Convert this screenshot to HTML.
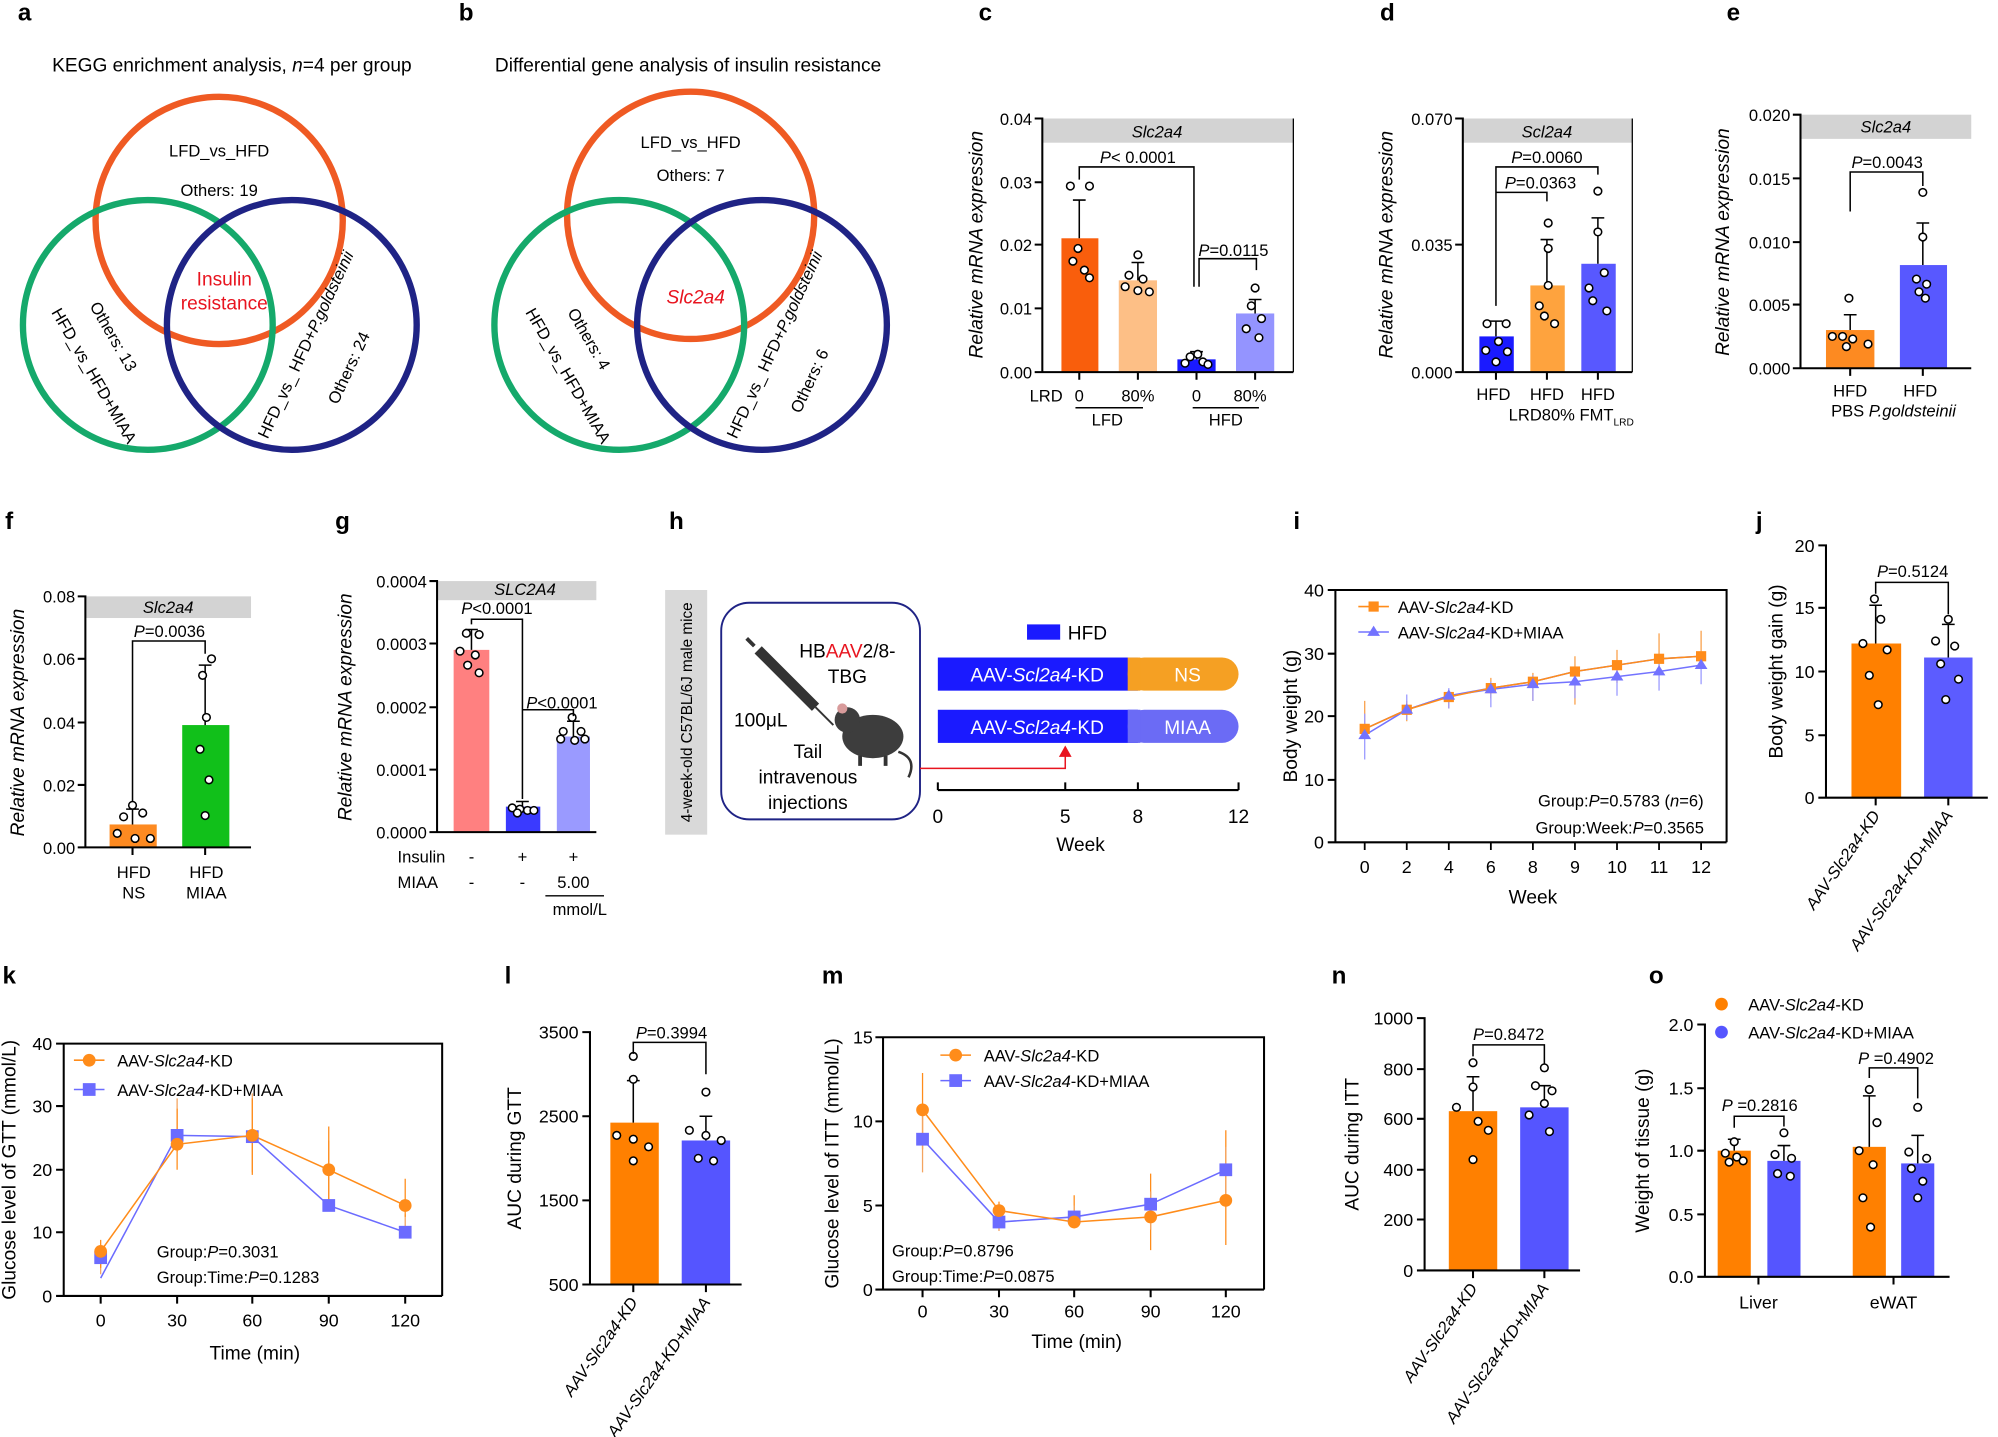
<!DOCTYPE html>
<html><head><meta charset="utf-8"><style>html,body{margin:0;padding:0;background:#fff}svg{display:block}</style></head><body>
<svg width="1998" height="1437" viewBox="0 0 1568 1127.7" preserveAspectRatio="none" xmlns="http://www.w3.org/2000/svg" font-family="Liberation Sans, sans-serif" font-size="13">
<defs><style>.pl{font-size:19px;font-weight:bold}.ax{stroke:#000;stroke-width:1.6;fill:none}.eb{stroke:#000;stroke-width:1.2;fill:none}.dot{fill:#fff;stroke:#000;stroke-width:1.2}.hd{fill:#d3d3d3}</style></defs>
<!-- panel letters -->
<g class="pl"><text x="14" y="16">a</text><text x="360" y="16">b</text><text x="768" y="16">c</text><text x="1083" y="16">d</text><text x="1355" y="16">e</text>
<text x="4" y="415">f</text><text x="263" y="415">g</text><text x="525" y="415">h</text><text x="1015" y="415">i</text><text x="1378" y="415">j</text>
<text x="2" y="772">k</text><text x="396" y="772">l</text><text x="645" y="772">m</text><text x="1045" y="772">n</text><text x="1294" y="772">o</text></g>

<!-- Venn a -->
<text x="182" y="56" text-anchor="middle" font-size="15">KEGG enrichment analysis, <tspan font-style="italic">n</tspan>=4 per group</text>
<g fill="none" stroke-width="5"><circle cx="172" cy="173" r="97" stroke="#ef5a23"/><circle cx="116" cy="255" r="98" stroke="#15a96b"/><circle cx="229" cy="255" r="98" stroke="#1f2385"/></g>
<text x="172" y="123" text-anchor="middle">LFD_vs_HFD</text><text x="172" y="154" text-anchor="middle">Others: 19</text>
<text x="176" y="224" text-anchor="middle" fill="#e8141f" font-size="15">Insulin</text><text x="176" y="243" text-anchor="middle" fill="#e8141f" font-size="15">resistance</text>
<text transform="translate(70,240) rotate(60)">Others: 13</text><text transform="translate(40,245) rotate(60)">HFD_vs_HFD+MIAA</text>
<text transform="translate(210,345) rotate(-65)">HFD_vs_ HFD+<tspan font-style="italic">P.goldsteinii</tspan></text><text transform="translate(265,318) rotate(-65)">Others: 24</text>

<!-- Venn b -->
<text x="540" y="56" text-anchor="middle" font-size="15">Differential gene analysis of insulin resistance</text>
<g fill="none" stroke-width="5"><circle cx="542" cy="169" r="97" stroke="#ef5a23"/><circle cx="486" cy="255" r="98" stroke="#15a96b"/><circle cx="598" cy="255" r="98" stroke="#1f2385"/></g>
<text x="542" y="116" text-anchor="middle">LFD_vs_HFD</text><text x="542" y="142" text-anchor="middle">Others: 7</text>
<text x="546" y="238" text-anchor="middle" fill="#e8141f" font-size="15" font-style="italic">Slc2a4</text>
<text transform="translate(445,245) rotate(60)">Others: 4</text><text transform="translate(412,245) rotate(60)">HFD_vs_HFD+MIAA</text>
<text transform="translate(578,345) rotate(-65)">HFD_vs_ HFD+<tspan font-style="italic">P.goldsteinii</tspan></text><text transform="translate(628,325) rotate(-65)">Others: 6</text>

<!-- c -->
<rect class="hd" x="818" y="93" width="197" height="19"/><text x="908" y="108" text-anchor="middle" font-style="italic">Slc2a4</text>
<line x1="1015" y1="93" x2="1015" y2="292" stroke="#000"/>
<rect x="833" y="187" width="29" height="105" fill="#f95e0c"/><rect x="878" y="220" width="30" height="72" fill="#fdbf86"/><rect x="924" y="282" width="30" height="10" fill="#1a1aff"/><rect x="970" y="246" width="30" height="46" fill="#9494ff"/>
<path class="eb" d="M847 187V157M842 157h10M893 220V206M888 206h10M939 282V276M934 276h10M985 246V235M980 235h10"/>
<g class="dot"><circle cx="840" cy="146" r="3"/><circle cx="855" cy="146" r="3"/><circle cx="846" cy="195" r="3"/><circle cx="842" cy="205" r="3"/><circle cx="851" cy="212" r="3"/><circle cx="855" cy="218" r="3"/><circle cx="893" cy="200" r="3"/><circle cx="886" cy="216" r="3"/><circle cx="897" cy="219" r="3"/><circle cx="883" cy="225" r="3"/><circle cx="893" cy="228" r="3"/><circle cx="902" cy="229" r="3"/><circle cx="934" cy="280" r="3"/><circle cx="940" cy="278" r="3"/><circle cx="944" cy="284" r="3"/><circle cx="930" cy="285" r="3"/><circle cx="948" cy="286" r="3"/><circle cx="985" cy="226" r="3"/><circle cx="982" cy="240" r="3"/><circle cx="990" cy="250" r="3"/><circle cx="978" cy="258" r="3"/><circle cx="988" cy="265" r="3"/></g>
<path class="eb" d="M847 141V131H937V225M941 225V203H986V212"/>
<text x="893" y="128" text-anchor="middle"><tspan font-style="italic">P</tspan>&lt; 0.0001</text><text x="968" y="201" text-anchor="middle"><tspan font-style="italic">P</tspan>=0.0115</text>
<path class="ax" d="M812 93H818V292H1015M812 143H818M812 192H818M812 242H818M812 292H818M847 292v6M893 292v6M939 292v6M985 292v6"/>
<g text-anchor="end"><text x="810" y="98">0.04</text><text x="810" y="148">0.03</text><text x="810" y="197">0.02</text><text x="810" y="247">0.01</text><text x="810" y="297">0.00</text></g>
<text transform="translate(771,192) rotate(-90)" text-anchor="middle" font-style="italic" font-size="15">Relative mRNA expression</text>
<text x="808" y="315">LRD</text><text x="847" y="315" text-anchor="middle">0</text><text x="893" y="315" text-anchor="middle">80%</text><text x="939" y="315" text-anchor="middle">0</text><text x="981" y="315" text-anchor="middle">80%</text>
<path class="eb" d="M844 320H897M936 320H988"/><text x="869" y="334" text-anchor="middle">LFD</text><text x="962" y="334" text-anchor="middle">HFD</text>

<!-- d -->
<rect class="hd" x="1148" y="93" width="133" height="19"/><text x="1214" y="108" text-anchor="middle" font-style="italic">Scl2a4</text>
<line x1="1281" y1="93" x2="1281" y2="292" stroke="#000"/>
<rect x="1161" y="264" width="27" height="28" fill="#1a1aff"/><rect x="1201" y="224" width="27" height="68" fill="#fea33e"/><rect x="1241" y="207" width="27" height="85" fill="#5858ff"/>
<path class="eb" d="M1174 264V252M1169 252h10M1214 224V188M1209 188h10M1254 207V171M1249 171h10"/>
<g class="dot"><circle cx="1167" cy="254" r="3"/><circle cx="1182" cy="254" r="3"/><circle cx="1176" cy="268" r="3"/><circle cx="1166" cy="275" r="3"/><circle cx="1183" cy="276" r="3"/><circle cx="1174" cy="284" r="3"/><circle cx="1215" cy="175" r="3"/><circle cx="1215" cy="195" r="3"/><circle cx="1215" cy="224" r="3"/><circle cx="1208" cy="240" r="3"/><circle cx="1212" cy="248" r="3"/><circle cx="1220" cy="254" r="3"/><circle cx="1254" cy="150" r="3"/><circle cx="1254" cy="182" r="3"/><circle cx="1259" cy="214" r="3"/><circle cx="1247" cy="226" r="3"/><circle cx="1250" cy="236" r="3"/><circle cx="1261" cy="244" r="3"/></g>
<path class="eb" d="M1174 240V131H1254V137M1174 160V151H1214V158"/>
<text x="1214" y="128" text-anchor="middle"><tspan font-style="italic">P</tspan>=0.0060</text><text x="1209" y="148" text-anchor="middle"><tspan font-style="italic">P</tspan>=0.0363</text>
<path class="ax" d="M1142 93H1148V292H1281M1142 192H1148M1142 292H1148M1174 292v6M1214 292v6M1254 292v6"/>
<g text-anchor="end"><text x="1140" y="98">0.070</text><text x="1140" y="197">0.035</text><text x="1140" y="297">0.000</text></g>
<text transform="translate(1093,192) rotate(-90)" text-anchor="middle" font-style="italic" font-size="15">Relative mRNA expression</text>
<text x="1172" y="314" text-anchor="middle">HFD</text><text x="1214" y="314" text-anchor="middle">HFD</text><text x="1254" y="314" text-anchor="middle">HFD</text>
<text x="1184" y="330">LRD80% FMT<tspan font-size="8" dy="4">LRD</tspan></text>

<!-- e -->
<rect class="hd" x="1413" y="90" width="134" height="19"/><text x="1480" y="104" text-anchor="middle" font-style="italic">Slc2a4</text>
<rect x="1433" y="259" width="38" height="30" fill="#fd8a21"/><rect x="1491" y="208" width="37" height="81" fill="#5858ff"/>
<path class="eb" d="M1452 259V247M1447 247h10M1509 208V175M1504 175h10"/>
<g class="dot"><circle cx="1451" cy="234" r="3"/><circle cx="1438" cy="264" r="3"/><circle cx="1446" cy="264" r="3"/><circle cx="1454" cy="266" r="3"/><circle cx="1449" cy="272" r="3"/><circle cx="1466" cy="270" r="3"/><circle cx="1509" cy="151" r="3"/><circle cx="1509" cy="186" r="3"/><circle cx="1504" cy="219" r="3"/><circle cx="1512" cy="223" r="3"/><circle cx="1506" cy="229" r="3"/><circle cx="1511" cy="234" r="3"/></g>
<path class="eb" d="M1452 166V135H1509V146"/><text x="1481" y="132" text-anchor="middle"><tspan font-style="italic">P</tspan>=0.0043</text>
<path class="ax" d="M1407 90H1413V289H1547M1407 140H1413M1407 190H1413M1407 239H1413M1407 289H1413M1452 289v6M1509 289v6"/>
<g text-anchor="end"><text x="1405" y="95">0.020</text><text x="1405" y="145">0.015</text><text x="1405" y="195">0.010</text><text x="1405" y="244">0.005</text><text x="1405" y="294">0.000</text></g>
<text transform="translate(1357,190) rotate(-90)" text-anchor="middle" font-style="italic" font-size="15">Relative mRNA expression</text>
<text x="1452" y="311" text-anchor="middle">HFD</text><text x="1507" y="311" text-anchor="middle">HFD</text><text x="1437" y="327">PBS <tspan font-style="italic">P.goldsteinii</tspan></text>

<!-- f -->
<rect class="hd" x="67" y="468" width="130" height="17"/><text x="132" y="481" text-anchor="middle" font-style="italic">Slc2a4</text>
<rect x="86" y="647" width="37" height="18" fill="#fd8a21"/><rect x="143" y="569" width="37" height="96" fill="#11c01a"/>
<path class="eb" d="M104 647V635M99 635h10M161 569V522M156 522h10"/>
<g class="dot"><circle cx="104" cy="632" r="3"/><circle cx="97" cy="641" r="3"/><circle cx="112" cy="638" r="3"/><circle cx="92" cy="654" r="3"/><circle cx="106" cy="658" r="3"/><circle cx="118" cy="658" r="3"/><circle cx="166" cy="517" r="3"/><circle cx="159" cy="530" r="3"/><circle cx="162" cy="563" r="3"/><circle cx="157" cy="588" r="3"/><circle cx="164" cy="612" r="3"/><circle cx="161" cy="640" r="3"/></g>
<path class="eb" d="M104 629V503H161V513"/><text x="133" y="500" text-anchor="middle"><tspan font-style="italic">P</tspan>=0.0036</text>
<path class="ax" d="M61 468H67V665H197M61 517H67M61 567H67M61 616H67M61 665H67M104 665v6M161 665v6"/>
<g text-anchor="end"><text x="59" y="473">0.08</text><text x="59" y="522">0.06</text><text x="59" y="572">0.04</text><text x="59" y="621">0.02</text><text x="59" y="670">0.00</text></g>
<text transform="translate(19,567) rotate(-90)" text-anchor="middle" font-style="italic" font-size="15">Relative mRNA expression</text>
<text x="105" y="689" text-anchor="middle">HFD</text><text x="162" y="689" text-anchor="middle">HFD</text><text x="105" y="705" text-anchor="middle">NS</text><text x="162" y="705" text-anchor="middle">MIAA</text>

<!-- g -->
<rect class="hd" x="343" y="456" width="125" height="15"/><text x="412" y="467" text-anchor="middle" font-style="italic">SLC2A4</text>
<rect x="356" y="510" width="28" height="143" fill="#ff8080"/><rect x="397" y="633" width="27" height="20" fill="#3a3aff"/><rect x="437" y="578" width="26" height="75" fill="#9a9aff"/>
<path class="eb" d="M370 510V494M365 494h10M410 633V629M405 629h10M450 578V566M445 566h10"/>
<g class="dot"><circle cx="366" cy="497" r="3"/><circle cx="376" cy="498" r="3"/><circle cx="361" cy="511" r="3"/><circle cx="373" cy="514" r="3"/><circle cx="367" cy="522" r="3"/><circle cx="376" cy="528" r="3"/><circle cx="402" cy="634" r="3"/><circle cx="408" cy="635" r="3"/><circle cx="414" cy="636" r="3"/><circle cx="419" cy="636" r="3"/><circle cx="406" cy="638" r="3"/><circle cx="449" cy="563" r="3"/><circle cx="442" cy="574" r="3"/><circle cx="456" cy="574" r="3"/><circle cx="440" cy="580" r="3"/><circle cx="451" cy="581" r="3"/><circle cx="459" cy="580" r="3"/></g>
<path class="eb" d="M370 490V486H410V627M410 560V557H450V562"/>
<text x="390" y="482" text-anchor="middle"><tspan font-style="italic">P</tspan>&lt;0.0001</text><text x="441" y="556" text-anchor="middle"><tspan font-style="italic">P</tspan>&lt;0.0001</text>
<path class="ax" d="M337 456H343V653H468M337 505H343M337 555H343M337 604H343M337 653H343"/>
<g text-anchor="end"><text x="335" y="461">0.0004</text><text x="335" y="510">0.0003</text><text x="335" y="560">0.0002</text><text x="335" y="609">0.0001</text><text x="335" y="658">0.0000</text></g>
<text transform="translate(276,555) rotate(-90)" text-anchor="middle" font-style="italic" font-size="15">Relative mRNA expression</text>
<text x="312" y="677">Insulin</text><text x="370" y="677" text-anchor="middle">-</text><text x="410" y="677" text-anchor="middle">+</text><text x="450" y="677" text-anchor="middle">+</text>
<text x="312" y="697">MIAA</text><text x="370" y="697" text-anchor="middle">-</text><text x="410" y="697" text-anchor="middle">-</text><text x="450" y="697" text-anchor="middle">5.00</text>
<line x1="428" y1="703" x2="474" y2="703" stroke="#000"/><text x="455" y="718" text-anchor="middle">mmol/L</text>

<!-- h -->
<rect x="522" y="463" width="33" height="192" fill="#d9d9d9"/>
<text transform="translate(543,559) rotate(-90)" text-anchor="middle" font-size="12">4-week-old C57BL/6J male  mice</text>
<rect x="566" y="473" width="156" height="170" rx="22" fill="none" stroke="#1f2385" stroke-width="1.5"/>
<text x="665" y="516" text-anchor="middle" font-size="15">HB<tspan fill="#e8141f">AAV</tspan>2/8-</text><text x="665" y="536" text-anchor="middle" font-size="15">TBG</text>
<text x="576" y="570" font-size="15">100μL</text>
<text x="634" y="595" text-anchor="middle" font-size="15">Tail</text><text x="634" y="615" text-anchor="middle" font-size="15">intravenous</text><text x="634" y="635" text-anchor="middle" font-size="15">injections</text>
<g><path d="M595 510l45 45" stroke="#333" stroke-width="8"/><path d="M640 555l14 14" stroke="#333" stroke-width="1.5"/><path d="M592 507l-6 -6" stroke="#333" stroke-width="3"/>
<ellipse cx="685" cy="578" rx="24" ry="17" fill="#3d3d3d"/><circle cx="665" cy="565" r="10" fill="#3d3d3d"/><circle cx="661" cy="556" r="4" fill="#d89b9b"/><path d="M705 590q15 5 8 20" stroke="#333" fill="none" stroke-width="2"/><path d="M675 593v8M695 593v8" stroke="#333" stroke-width="3"/></g>
<rect x="806" y="490" width="26" height="12" fill="#1a1aff"/><text x="838" y="502" font-size="15">HFD</text>
<rect x="736" y="516" width="157" height="26" fill="#1a1aff"/><text x="814" y="535" text-anchor="middle" fill="#fff" font-size="15">AAV-<tspan font-style="italic">Scl2a4</tspan>-KD</text>
<rect x="885" y="516" width="87" height="26" rx="13" fill="#f5a023"/><rect x="885" y="516" width="10" height="26" fill="#f5a023"/><text x="932" y="535" text-anchor="middle" fill="#fff" font-size="15">NS</text>
<rect x="736" y="557" width="157" height="26" fill="#1a1aff"/><text x="814" y="576" text-anchor="middle" fill="#fff" font-size="15">AAV-<tspan font-style="italic">Scl2a4</tspan>-KD</text>
<rect x="885" y="557" width="87" height="26" rx="13" fill="#6b6bf5"/><rect x="885" y="557" width="10" height="26" fill="#6b6bf5"/><text x="932" y="576" text-anchor="middle" fill="#fff" font-size="15">MIAA</text>
<path d="M722 603H836V592" stroke="#e8141f" stroke-width="1.2" fill="none"/><path d="M831 594l5 -9l5 9z" fill="#e8141f"/>
<path class="ax" d="M736 620H972M736 620v-6M836 620v-6M893 620v-6M972 620v-6"/>
<g font-size="15" text-anchor="middle"><text x="736" y="646">0</text><text x="836" y="646">5</text><text x="893" y="646">8</text><text x="972" y="646">12</text><text x="848" y="668">Week</text></g>

<!-- i -->
<path class="ax" d="M1042 463H1355V661M1042 463H1048V661H1355M1042 513H1048M1042 562H1048M1042 612H1048M1042 661H1048"/>
<g stroke="#000" stroke-width="1.4"><path d="M1071 661v6M1104 661v6M1137 661v6M1170 661v6M1203 661v6M1236 661v6M1269 661v6M1302 661v6M1335 661v6"/></g>
<g text-anchor="end" font-size="14"><text x="1039" y="468">40</text><text x="1039" y="518">30</text><text x="1039" y="567">20</text><text x="1039" y="617">10</text><text x="1039" y="666">0</text></g>
<g text-anchor="middle" font-size="14"><text x="1071" y="685">0</text><text x="1104" y="685">2</text><text x="1137" y="685">4</text><text x="1170" y="685">6</text><text x="1203" y="685">8</text><text x="1236" y="685">9</text><text x="1269" y="685">10</text><text x="1302" y="685">11</text><text x="1335" y="685">12</text><text x="1203" y="709" font-size="15">Week</text></g>
<text transform="translate(1018,562) rotate(-90)" text-anchor="middle" font-size="15">Body weight (g)</text>
<g stroke="#f9a04a" stroke-width="1" fill="none"><path d="M1071 550v24M1104 550v16M1137 544v12M1170 532v16M1203 528v22M1236 515v38M1269 510v26M1302 497v30M1335 495v28"/></g>
<g stroke="#9a9aff" stroke-width="1" fill="none"><path d="M1071 560v36M1104 545v20M1137 540v16M1170 535v20M1203 530v20M1236 528v20M1269 524v22M1302 520v22M1335 515v22"/></g>
<polyline points="1071,572 1104,557 1137,546 1170,540 1203,535 1236,527 1269,522 1302,517 1335,515" fill="none" stroke="#7373ff" stroke-width="1.2"/>
<polyline points="1071,572 1104,557 1137,546 1170,540 1203,535 1236,527 1269,522 1302,517 1335,515" fill="none" stroke="#7373ff" stroke-width="0"/>
<polyline points="1071,577 1104,557 1137,546 1170,541 1203,537 1236,535 1269,531 1302,527 1335,522" fill="none" stroke="#7373ff" stroke-width="1.2"/>
<polyline points="1071,572 1104,557 1137,547 1170,540 1203,535 1236,527 1269,522 1302,517 1335,515" fill="none" stroke="#ff8c1a" stroke-width="1.2"/>
<g fill="#ff8c1a"><rect x="1067" y="568" width="8" height="8"/><rect x="1100" y="553" width="8" height="8"/><rect x="1133" y="543" width="8" height="8"/><rect x="1166" y="536" width="8" height="8"/><rect x="1199" y="531" width="8" height="8"/><rect x="1232" y="523" width="8" height="8"/><rect x="1265" y="518" width="8" height="8"/><rect x="1298" y="513" width="8" height="8"/><rect x="1331" y="511" width="8" height="8"/></g>
<g fill="#7373ff"><path d="M1071 572l5 8h-10z M1104 552l5 8h-10z M1137 541l5 8h-10z M1170 536l5 8h-10z M1203 532l5 8h-10z M1236 530l5 8h-10z M1269 526l5 8h-10z M1302 522l5 8h-10z M1335 517l5 8h-10z"/></g>
<path d="M1066 476h24" stroke="#ff8c1a" stroke-width="1.2"/><rect x="1074" y="472" width="8" height="8" fill="#ff8c1a"/><text x="1097" y="481">AAV-<tspan font-style="italic">Slc2a4</tspan>-KD</text>
<path d="M1066 496h24" stroke="#7373ff" stroke-width="1.2"/><path d="M1078 491l5 8h-10z" fill="#7373ff"/><text x="1097" y="501">AAV-<tspan font-style="italic">Slc2a4</tspan>-KD+MIAA</text>
<text x="1207" y="633">Group:<tspan font-style="italic">P</tspan>=0.5783 (<tspan font-style="italic">n</tspan>=6)</text><text x="1205" y="654">Group:Week:<tspan font-style="italic">P</tspan>=0.3565</text>

<!-- j -->
<rect x="1453" y="505" width="39" height="121" fill="#ff8000"/><rect x="1510" y="516" width="38" height="110" fill="#5c5cff"/>
<path class="eb" d="M1472 505V475M1467 475h10M1529 516V490M1524 490h10"/>
<g class="dot"><circle cx="1471" cy="470" r="3"/><circle cx="1476" cy="486" r="3"/><circle cx="1462" cy="505" r="3"/><circle cx="1481" cy="510" r="3"/><circle cx="1467" cy="530" r="3"/><circle cx="1474" cy="553" r="3"/><circle cx="1529" cy="486" r="3"/><circle cx="1519" cy="503" r="3"/><circle cx="1534" cy="507" r="3"/><circle cx="1523" cy="521" r="3"/><circle cx="1537" cy="533" r="3"/><circle cx="1527" cy="549" r="3"/></g>
<path class="eb" d="M1472 466V457H1529V482"/><text x="1501" y="453" text-anchor="middle"><tspan font-style="italic">P</tspan>=0.5124</text>
<path class="ax" d="M1427 428H1433V626H1560M1427 477H1433M1427 527H1433M1427 577H1433M1427 626H1433M1472 626v6M1529 626v6"/>
<g text-anchor="end" font-size="14"><text x="1424" y="433">20</text><text x="1424" y="482">15</text><text x="1424" y="532">10</text><text x="1424" y="582">5</text><text x="1424" y="631">0</text></g>
<text transform="translate(1399,527) rotate(-90)" text-anchor="middle" font-size="15">Body weight gain (g)</text>
<text transform="translate(1476,640) rotate(-55)" text-anchor="end" font-style="italic">AAV-Slc2a4-KD</text><text transform="translate(1533,640) rotate(-55)" text-anchor="end" font-style="italic">AAV-Slc2a4-KD+MIAA</text>

<!-- k -->
<path class="ax" d="M44 819H347V1017M44 819H50V1017H347M44 868H50M44 918H50M44 967H50M44 1017H50M79 1017v6M139 1017v6M198 1017v6M258 1017v6M318 1017v6"/>
<g text-anchor="end" font-size="14"><text x="41" y="824">40</text><text x="41" y="873">30</text><text x="41" y="923">20</text><text x="41" y="972">10</text><text x="41" y="1022">0</text></g>
<g text-anchor="middle" font-size="14"><text x="79" y="1041">0</text><text x="139" y="1041">30</text><text x="198" y="1041">60</text><text x="258" y="1041">90</text><text x="318" y="1041">120</text><text x="200" y="1067" font-size="15">Time (min)</text></g>
<text transform="translate(12,918) rotate(-90)" text-anchor="middle" font-size="15">Glucose level of GTT (mmol/L)</text>
<g stroke="#f4a460" stroke-width="1"><path d="M79 980v20M139 862v42M198 858v62M258 895v48M318 953v17"/></g>
<g stroke="#ff8c1a" stroke-width="1"><path d="M79 973v22M139 870v48M198 862v60M258 884v62M318 925v30"/></g>
<polyline points="79,1003 139,891 198,892 258,946 318,967" fill="none" stroke="#6b6bff" stroke-width="1.2"/>
<polyline points="79,982 139,898 198,891 258,918 318,946" fill="none" stroke="#ff8c1a" stroke-width="1.2"/>
<g fill="#6b6bff"><rect x="74" y="982" width="10" height="10"/><rect x="134" y="886" width="10" height="10"/><rect x="193" y="887" width="10" height="10"/><rect x="253" y="941" width="10" height="10"/><rect x="313" y="962" width="10" height="10"/></g>
<g fill="#ff8c1a"><circle cx="79" cy="982" r="5"/><circle cx="139" cy="898" r="5"/><circle cx="198" cy="891" r="5"/><circle cx="258" cy="918" r="5"/><circle cx="318" cy="946" r="5"/></g>
<path d="M58 832h24" stroke="#ff8c1a" stroke-width="1.2"/><circle cx="70" cy="832" r="5" fill="#ff8c1a"/><text x="92" y="837">AAV-<tspan font-style="italic">Slc2a4</tspan>-KD</text>
<path d="M58 855h24" stroke="#6b6bff" stroke-width="1.2"/><rect x="65" y="850" width="10" height="10" fill="#6b6bff"/><text x="92" y="860">AAV-<tspan font-style="italic">Slc2a4</tspan>-KD+MIAA</text>
<text x="123" y="987">Group:<tspan font-style="italic">P</tspan>=0.3031</text><text x="123" y="1007">Group:Time:<tspan font-style="italic">P</tspan>=0.1283</text>

<!-- l -->
<rect x="479" y="881" width="38" height="127" fill="#ff8000"/><rect x="535" y="895" width="38" height="113" fill="#5555ff"/>
<path class="eb" d="M497 881V848M492 848h10M554 895V876M549 876h10"/>
<g class="dot"><circle cx="497" cy="829" r="3"/><circle cx="497" cy="847" r="3"/><circle cx="484" cy="891" r="3"/><circle cx="497" cy="894" r="3"/><circle cx="509" cy="900" r="3"/><circle cx="497" cy="911" r="3"/><circle cx="554" cy="857" r="3"/><circle cx="541" cy="887" r="3"/><circle cx="554" cy="891" r="3"/><circle cx="566" cy="895" r="3"/><circle cx="548" cy="909" r="3"/><circle cx="560" cy="911" r="3"/></g>
<path class="eb" d="M497 827V818H554V843"/><text x="527" y="815" text-anchor="middle"><tspan font-style="italic">P</tspan>=0.3994</text>
<path class="ax" d="M457 810H463V1008H582M457 876H463M457 942H463M457 1008H463M497 1008v6M554 1008v6"/>
<g text-anchor="end" font-size="14"><text x="454" y="815">3500</text><text x="454" y="881">2500</text><text x="454" y="947">1500</text><text x="454" y="1013">500</text></g>
<text transform="translate(409,909) rotate(-90)" text-anchor="middle" font-size="15">AUC during GTT</text>
<text transform="translate(501,1022) rotate(-55)" text-anchor="end" font-style="italic">AAV-Slc2a4-KD</text><text transform="translate(558,1022) rotate(-55)" text-anchor="end" font-style="italic">AAV-Slc2a4-KD+MIAA</text>

<!-- m -->
<path class="ax" d="M687 814H992V1012M687 814H693V1012H992M687 880H693M687 946H693M687 1012H693M724 1012v6M784 1012v6M843 1012v6M903 1012v6M962 1012v6"/>
<g text-anchor="end" font-size="14"><text x="685" y="819">15</text><text x="685" y="885">10</text><text x="685" y="951">5</text><text x="685" y="1017">0</text></g>
<g text-anchor="middle" font-size="14"><text x="724" y="1034">0</text><text x="784" y="1034">30</text><text x="843" y="1034">60</text><text x="903" y="1034">90</text><text x="962" y="1034">120</text><text x="845" y="1058" font-size="15">Time (min)</text></g>
<text transform="translate(658,913) rotate(-90)" text-anchor="middle" font-size="15">Glucose level of ITT (mmol/L)</text>
<g stroke="#ff8c1a" stroke-width="1"><path d="M724 842v60M784 943v20M843 938v22M903 921v60M962 887v90"/></g>
<g stroke="#f4a460" stroke-width="1"><path d="M724 868v52M784 950v16M843 946v18M903 935v30M962 900v40"/></g>
<polyline points="724,894 784,959 843,955 903,945 962,918" fill="none" stroke="#6b6bff" stroke-width="1.2"/>
<polyline points="724,871 784,950 843,959 903,955 962,942" fill="none" stroke="#ff8c1a" stroke-width="1.2"/>
<g fill="#6b6bff"><rect x="719" y="889" width="10" height="10"/><rect x="779" y="954" width="10" height="10"/><rect x="838" y="950" width="10" height="10"/><rect x="898" y="940" width="10" height="10"/><rect x="957" y="913" width="10" height="10"/></g>
<g fill="#ff8c1a"><circle cx="724" cy="871" r="5"/><circle cx="784" cy="950" r="5"/><circle cx="843" cy="959" r="5"/><circle cx="903" cy="955" r="5"/><circle cx="962" cy="942" r="5"/></g>
<path d="M738 828h24" stroke="#ff8c1a" stroke-width="1.2"/><circle cx="750" cy="828" r="5" fill="#ff8c1a"/><text x="772" y="833">AAV-<tspan font-style="italic">Slc2a4</tspan>-KD</text>
<path d="M738 848h24" stroke="#6b6bff" stroke-width="1.2"/><rect x="745" y="843" width="10" height="10" fill="#6b6bff"/><text x="772" y="853">AAV-<tspan font-style="italic">Slc2a4</tspan>-KD+MIAA</text>
<text x="700" y="986">Group:<tspan font-style="italic">P</tspan>=0.8796</text><text x="700" y="1006">Group:Time:<tspan font-style="italic">P</tspan>=0.0875</text>

<!-- n -->
<rect x="1137" y="872" width="38" height="125" fill="#ff8000"/><rect x="1193" y="869" width="38" height="128" fill="#5555ff"/>
<path class="eb" d="M1156 872V845M1151 845h10M1212 869V852M1207 852h10"/>
<g class="dot"><circle cx="1156" cy="834" r="3"/><circle cx="1156" cy="853" r="3"/><circle cx="1143" cy="869" r="3"/><circle cx="1160" cy="880" r="3"/><circle cx="1168" cy="887" r="3"/><circle cx="1156" cy="910" r="3"/><circle cx="1212" cy="838" r="3"/><circle cx="1205" cy="852" r="3"/><circle cx="1218" cy="856" r="3"/><circle cx="1212" cy="866" r="3"/><circle cx="1200" cy="875" r="3"/><circle cx="1216" cy="888" r="3"/></g>
<path class="eb" d="M1156 829V820H1212V835"/><text x="1184" y="816" text-anchor="middle"><tspan font-style="italic">P</tspan>=0.8472</text>
<path class="ax" d="M1112 799H1118V997H1240M1112 839H1118M1112 878H1118M1112 918H1118M1112 957H1118M1112 997H1118M1156 997v6M1212 997v6"/>
<g text-anchor="end" font-size="14"><text x="1109" y="804">1000</text><text x="1109" y="844">800</text><text x="1109" y="883">600</text><text x="1109" y="923">400</text><text x="1109" y="962">200</text><text x="1109" y="1002">0</text></g>
<text transform="translate(1066,898) rotate(-90)" text-anchor="middle" font-size="15">AUC during ITT</text>
<text transform="translate(1160,1011) rotate(-55)" text-anchor="end" font-style="italic">AAV-Slc2a4-KD</text><text transform="translate(1216,1011) rotate(-55)" text-anchor="end" font-style="italic">AAV-Slc2a4-KD+MIAA</text>

<!-- o -->
<circle cx="1351" cy="788" r="5" fill="#ff8000"/><text x="1372" y="793">AAV-<tspan font-style="italic">Slc2a4</tspan>-KD</text>
<circle cx="1351" cy="810" r="5" fill="#5555ff"/><text x="1372" y="815">AAV-<tspan font-style="italic">Slc2a4</tspan>-KD+MIAA</text>
<rect x="1348" y="903" width="26" height="99" fill="#ff8000"/><rect x="1387" y="911" width="26" height="91" fill="#5555ff"/><rect x="1454" y="900" width="26" height="102" fill="#ff8000"/><rect x="1492" y="913" width="26" height="89" fill="#5555ff"/>
<path class="eb" d="M1361 903V894M1356 894h10M1400 911V899M1395 899h10M1467 900V860M1462 860h10M1505 913V891M1500 891h10"/>
<g class="dot"><circle cx="1361" cy="896" r="3"/><circle cx="1354" cy="905" r="3"/><circle cx="1363" cy="908" r="3"/><circle cx="1368" cy="911" r="3"/><circle cx="1357" cy="912" r="3"/><circle cx="1400" cy="889" r="3"/><circle cx="1393" cy="906" r="3"/><circle cx="1406" cy="909" r="3"/><circle cx="1395" cy="921" r="3"/><circle cx="1405" cy="923" r="3"/><circle cx="1467" cy="855" r="3"/><circle cx="1473" cy="881" r="3"/><circle cx="1459" cy="903" r="3"/><circle cx="1470" cy="914" r="3"/><circle cx="1462" cy="940" r="3"/><circle cx="1468" cy="963" r="3"/><circle cx="1505" cy="869" r="3"/><circle cx="1498" cy="904" r="3"/><circle cx="1512" cy="909" r="3"/><circle cx="1500" cy="917" r="3"/><circle cx="1509" cy="927" r="3"/><circle cx="1505" cy="940" r="3"/></g>
<path class="eb" d="M1361 885V876H1400V884M1467 846V838H1505V862"/>
<text x="1381" y="872" text-anchor="middle"><tspan font-style="italic">P</tspan> =0.2816</text><text x="1488" y="835" text-anchor="middle"><tspan font-style="italic">P</tspan> =0.4902</text>
<path class="ax" d="M1332 804H1338V1002H1530M1332 854H1338M1332 903H1338M1332 953H1338M1332 1002H1338M1380 1002v6M1486 1002v6"/>
<g text-anchor="end" font-size="14"><text x="1329" y="809">2.0</text><text x="1329" y="859">1.5</text><text x="1329" y="908">1.0</text><text x="1329" y="958">0.5</text><text x="1329" y="1007">0.0</text></g>
<text transform="translate(1294,903) rotate(-90)" text-anchor="middle" font-size="15">Weight of tissue (g)</text>
<text x="1380" y="1027" text-anchor="middle" font-size="14">Liver</text><text x="1486" y="1027" text-anchor="middle" font-size="14">eWAT</text>
</svg>
</body></html>
